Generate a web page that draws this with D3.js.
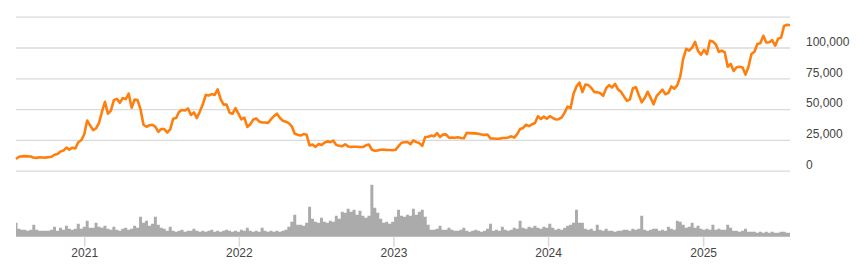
<!DOCTYPE html>
<html>
<head>
<meta charset="utf-8">
<script src="https://cdn.jsdelivr.net/npm/d3@7"></script>
<style>
  html, body { margin: 0; padding: 0; background: #fff; }
  svg { display: block; font-family: "Liberation Sans", Arial, sans-serif; }
</style>
</head>
<body>
<svg id="chart" width="856" height="267"></svg>
<script>
// Weekly samples (Fridays) starting 2020-07-24
const startDate = "2020-07-24";
const stepDays = 7;

// Closing price (USD), one array per year
const price2020 = [9550,11350,11600,11800,11650,11500,10500,10400,10950,10750,10600,11050,11350,12950,13550,15600,16300,18700,17150,18650,18050,23100,24700];
const price2021 = [29400,40700,36800,33000,34300,38900,47900,55900,46300,48800,57300,58300,55100,59000,58100,62500,51100,57800,57300,49700,37300,35700,36900,37300,35600,31600,33800,33800,31000,33600,42200,42800,47800,49300,48900,50500,45200,47300,42700,48100,53900,61500,61000,62200,61500,66000,58100,53600,53700,47100,46200,50800,46300];
const price2022 = [41600,43100,35500,37700,41500,42400,40000,39100,39100,38800,41800,44300,46300,42800,40500,39700,38600,36000,30000,29200,28600,29700,29100,20500,21200,19300,21600,20800,22700,23800,23200,24400,20800,20300,19950,21400,19700,19300,19400,19500,19200,19200,20600,21300,17000,16200,16500,17000,17100,16800,16800,16600];
const price2023 = [16950,19900,22700,23100,23300,21600,24600,23200,22400,20200,27400,27500,28500,27900,30500,27300,29300,29500,26800,26900,26700,27200,26500,26300,30700,30500,30300,30300,29900,29300,29100,29400,26100,26100,25900,25900,26600,26600,27000,27900,26900,29700,33900,34700,37300,36200,37700,38700,44200,42000,43900,42100];
const price2024 = [44200,42800,41600,41800,43200,47100,52100,50700,62400,68300,71500,63800,69900,69500,67200,63800,63800,62900,60800,67000,69500,67500,70500,66000,64100,60300,56700,57900,66700,67900,61400,55500,59000,64100,59100,53900,60500,63200,65800,62100,63200,68400,66600,69500,76600,91000,98900,97400,99900,104500,97000,94200];
const price2025 = [98100,94600,105500,104800,102400,96500,97500,96100,84400,86700,81000,84000,84400,83800,78000,84400,94700,96500,102900,103500,109500,104000,104300,106000,101500,107100,108000,117500,118500,118000];

// Trading volume (relative units)
const vol2020 = [14,8,7,7,6,7,12,7,6,6,6,6,7,10,6,9,7,11,8,7,8,13,8];
const vol2021 = [10,16,9,9,14,10,9,11,8,7,10,7,6,8,9,7,8,11,9,20,14,16,11,13,20,12,9,8,6,10,6,5,6,7,5,6,6,8,6,5,6,5,6,7,5,6,5,6,7,6,5,6,5];
const vol2022 = [7,6,9,6,5,6,5,9,6,5,6,5,6,5,6,7,10,15,22,12,12,11,14,30,18,15,14,19,15,14,16,15,21,18,25,24,28,25,27,22,26,21,19,21,52,29,24,18,14,15,13,15];
const vol2023 = [20,27,21,20,22,21,28,22,25,27,20,12,7,7,8,11,7,7,9,7,6,6,7,9,6,5,6,7,6,5,6,8,13,6,7,6,10,7,6,7,9,8,16,9,8,10,9,11,9,8,10,9];
const vol2024 = [13,9,7,8,7,9,11,12,14,27,14,14,8,7,8,6,12,7,6,8,6,6,5,6,6,7,7,6,8,7,8,21,7,6,7,8,8,6,7,6,10,8,7,16,15,12,9,10,14,9,11,8];
const vol2025 = [7,8,7,12,7,8,7,7,12,9,6,6,5,6,8,5,5,5,4,5,4,5,4,5,4,4,5,5,4,4];

// Axis ticks
const priceTicks = [0, 25000, 50000, 75000, 100000, 125000];
const priceTickLabels = ["0", "25,000", "50,000", "75,000", "100,000", ""];
const yearTicks = ["2021-01-01", "2022-01-01", "2023-01-01", "2024-01-01", "2025-01-01"];
const yearLabels = ["2021", "2022", "2023", "2024", "2025"];

// ---- build table ----
const prices = [].concat(price2020, price2021, price2022, price2023, price2024, price2025);
const volumes = [].concat(vol2020, vol2021, vol2022, vol2023, vol2024, vol2025);
const parse = d3.utcParse("%Y-%m-%d");
const t0 = parse(startDate);
const data = prices.map((p, i) => ({
  date: d3.utcDay.offset(t0, i * stepDays),
  price: p,
  volume: volumes[i]
}));

const svg = d3.select("#chart");
const left = 16, right = 790;
const priceTop = 16.7, priceBottom = 170.7;
const volTop = 176.7, volBottom = 236.7;

const x = d3.scaleUtc()
  .domain(d3.extent(data, d => d.date))
  .range([left, right]);

const y = d3.scaleLinear().domain([0, 125000]).range([priceBottom, priceTop]);
const yv = d3.scaleLinear().domain([0, 60]).range([volBottom, volTop]);

// gridlines
const grid = svg.append("g")
  .attr("transform", `translate(${left},0)`)
  .call(d3.axisRight(y).tickValues(priceTicks).tickSize(right - left).tickFormat(""));
grid.select(".domain").remove();
grid.selectAll(".tick line").attr("stroke", "#dadada").attr("stroke-width", 1.3);

// price labels
svg.append("g").selectAll("text")
  .data(priceTicks)
  .join("text")
  .attr("x", 806)
  .attr("y", d => y(d) - 6)
  .attr("dy", "0.35em")
  .attr("font-size", 12)
  .attr("fill", "#444")
  .text((d, i) => priceTickLabels[i]);

// volume (stepped bars, no gaps)
svg.append("path")
  .datum(data)
  .attr("fill", "#ababab")
  .attr("d", d3.area()
    .curve(d3.curveStep)
    .x(d => x(d.date))
    .y0(volBottom)
    .y1(d => yv(d.volume)));

// x axis
const xa = svg.append("g")
  .attr("transform", `translate(0,${volBottom})`)
  .call(d3.axisBottom(x)
    .tickValues(yearTicks.map(parse))
    .tickSize(10)
    .tickPadding(2)
    .tickFormat((d, i) => yearLabels[i]));
xa.select(".domain").remove();
xa.selectAll(".tick line").attr("stroke", "#d8d8d8").attr("stroke-width", 1.5);
xa.selectAll(".tick text").attr("font-size", 12).attr("fill", "#444")
  .attr("font-family", "'Liberation Sans', Arial, sans-serif");

// price line
svg.append("path")
  .datum(data)
  .attr("fill", "none")
  .attr("stroke", "#ff7f0e")
  .attr("stroke-width", 2.6)
  .attr("stroke-linejoin", "round")
  .attr("d", d3.line().x(d => x(d.date)).y(d => y(d.price)));
</script>
</body>
</html>
